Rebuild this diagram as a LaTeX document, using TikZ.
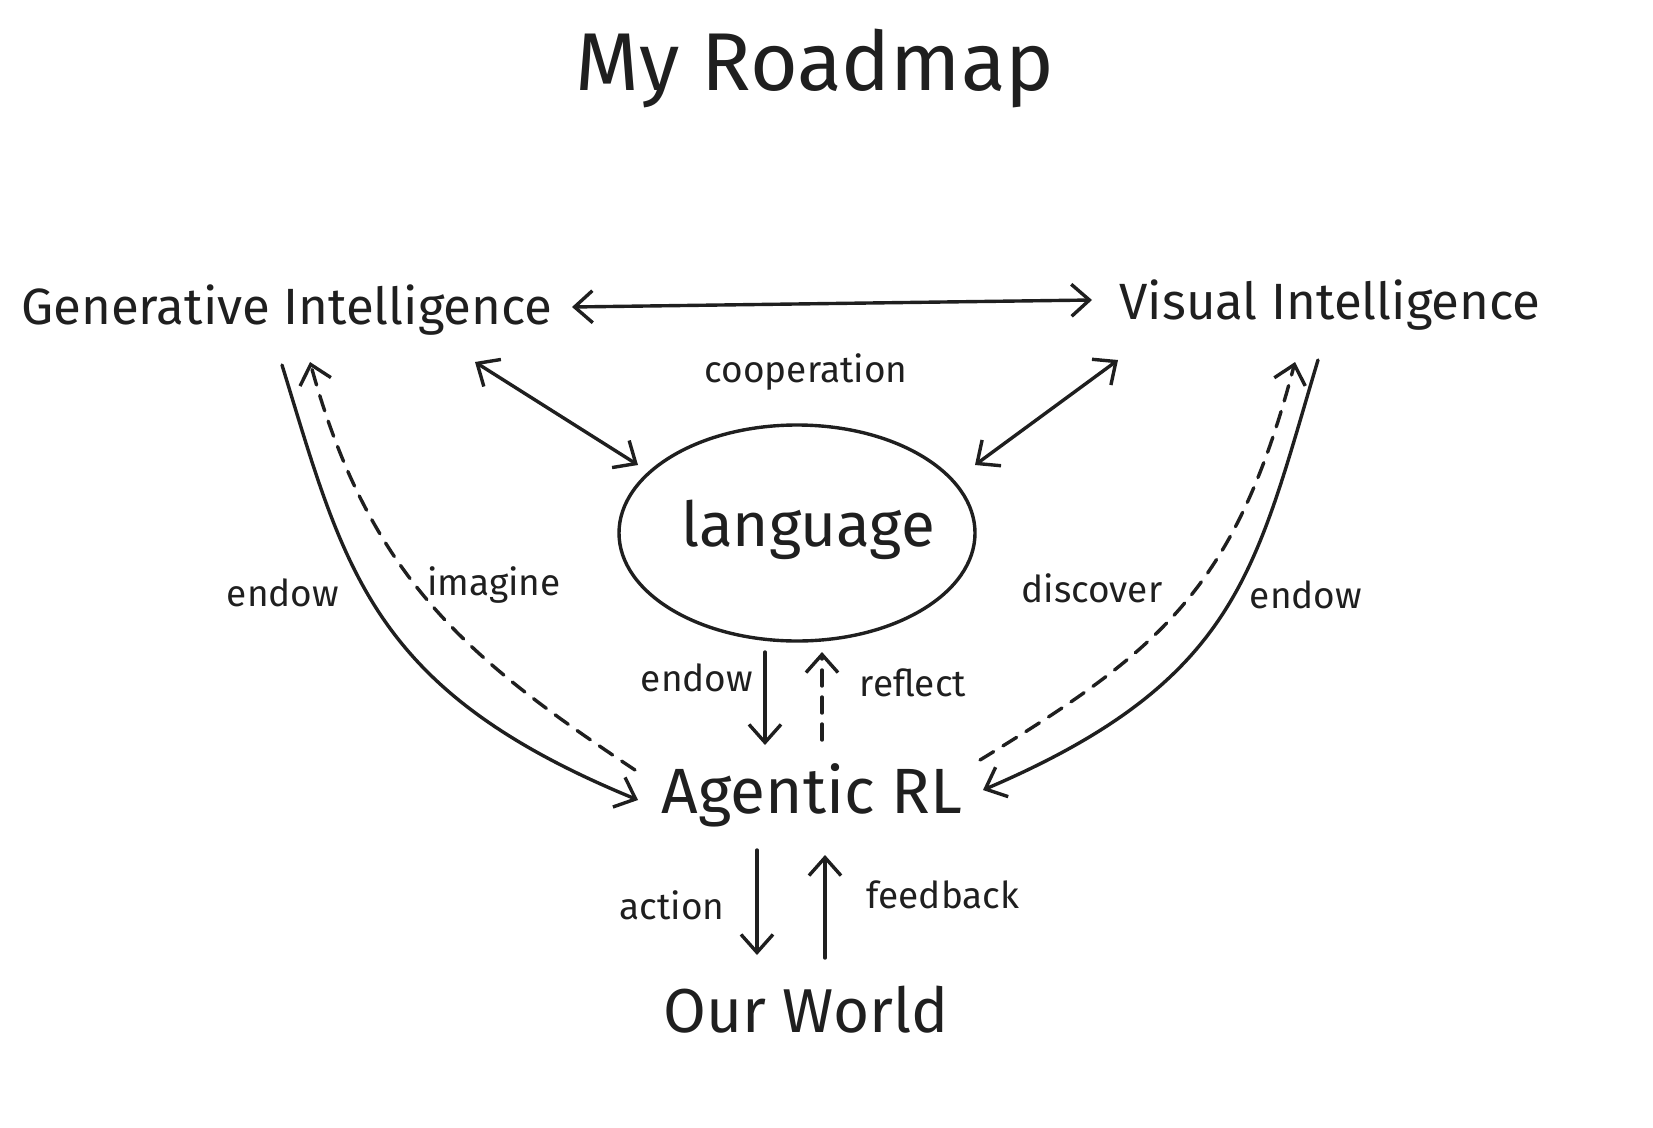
\documentclass[tikz,border=0pt]{standalone}
\usepackage{fontspec}
\setmainfont{Fira Sans}
\usetikzlibrary{arrows.meta}
\begin{document}
\begin{tikzpicture}[x=1pt,y=-1pt,
  con/.style={line width=3.4pt,line cap=round,color=black!88,
    arrows={-Straight Barb[length=18pt,width=32pt,line width=3.4pt]}},
  dbl/.style={con,arrows={Straight Barb[length=18pt,width=32pt,line width=3.4pt]-Straight Barb[length=18pt,width=32pt,line width=3.4pt]}},
  dsh/.style={con,dash pattern=on 16pt off 11pt},
  big/.style={font=\fontsize{51}{56}\selectfont,text=black!88,inner sep=0pt},
  lab/.style={font=\fontsize{37}{42}\selectfont,text=black!88,inner sep=0pt}]
\useasboundingbox (0,0) rectangle (1653,1127);
\node[font=\fontsize{82}{90}\selectfont,text=black!88] (title) at (815,68) {My Roadmap};
\node[big] (gi) at (287,310) {Generative Intelligence};
\node[big] (vi) at (1330,305) {Visual Intelligence};
\draw[line width=3.4pt,black!88] (797,533) ellipse [x radius=178pt,y radius=108pt];
\node[font=\fontsize{62}{66}\selectfont,text=black!88] (lang) at (808,530) {language};
\node[lab] (coop) at (806,372) {cooperation};
\node[font=\fontsize{64}{68}\selectfont,text=black!88] (arl) at (812,795) {Agentic RL};
\node[font=\fontsize{62}{66}\selectfont,text=black!88] (ow) at (806,1010) {Our World};
\coordinate (a1) at (572,307); \coordinate (a2) at (1092,300);
\draw[dbl] (a1) -- (a2);
\coordinate (b1) at (475,362); \coordinate (b2) at (638,465);
\draw[dbl] (b1) -- (b2);
\coordinate (c1) at (1118,360); \coordinate (c2) at (975,465);
\draw[dbl] (c1) -- (c2);
\coordinate (g1) at (282,365); \coordinate (g2) at (638,800);
\draw[con] (g1) .. controls (345,570) and (370,690) .. (g2);
\coordinate (i1) at (635,770); \coordinate (i2) at (310,362);
\draw[dsh] (i1) .. controls (470,660) and (370,580) .. (i2);
\coordinate (v1) at (1318,360); \coordinate (v2) at (983,790);
\draw[con] (v1) .. controls (1255,570) and (1240,680) .. (v2);
\coordinate (d1) at (980,760); \coordinate (d2) at (1295,362);
\draw[dsh] (d1) .. controls (1160,650) and (1235,590) .. (d2);
\coordinate (e1) at (765,652); \coordinate (e2) at (765,745);
\draw[con] (e1) -- (e2);
\coordinate (r1) at (822,740); \coordinate (r2) at (822,652);
\draw[dsh] (r1) -- (r2);
\coordinate (ac1) at (757,850); \coordinate (ac2) at (757,955);
\draw[con] (ac1) -- (ac2);
\coordinate (f1) at (825,958); \coordinate (f2) at (825,855);
\draw[con] (f1) -- (f2);
\node[lab] (l1) at (283,593) {endow};
\node[lab] (l2) at (494,585) {imagine};
\node[lab] (l3) at (1092,588) {discover};
\node[lab] (l4) at (1306,595) {endow};
\node[lab] (l5) at (697,678) {endow};
\node[lab] (l6) at (913,683) {reflect};
\node[lab] (l7) at (672,905) {action};
\node[lab] (l8) at (943,895) {feedback};
\end{tikzpicture}
\end{document}
